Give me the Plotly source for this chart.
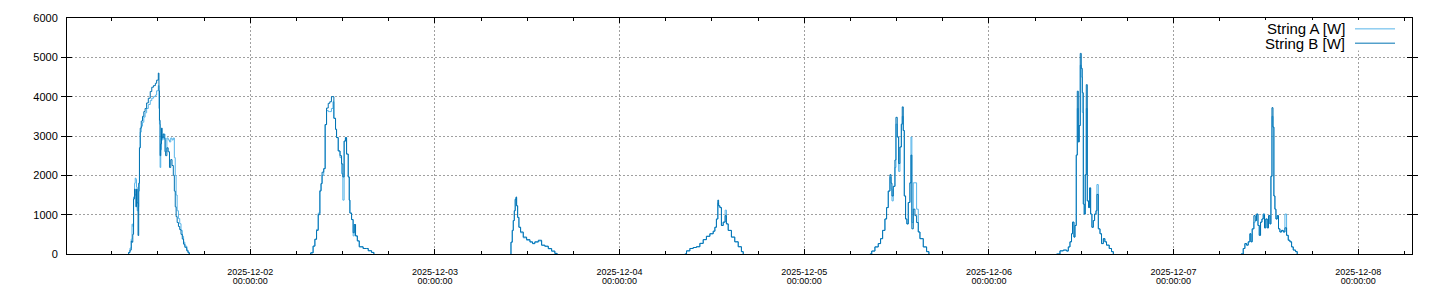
import pandas as pd
import plotly.graph_objects as go

series_names = ["String A [W]", "String B [W]"]
series_colors = ["#56B4E9", "#0072B2"]

# ---- Day 1: 2025-12-01 ----
d1_date = "2025-12-01"
d1_time = ["08:09", "08:12", "08:22", "08:32", "08:38", "08:44", "08:50", "08:58", "09:03", "09:08",
           "09:13", "09:18", "09:25", "09:30", "09:36", "09:42", "09:50", "10:00", "10:10", "10:20",
           "10:32", "10:45", "11:00", "11:12", "11:25", "11:40", "11:50", "12:03", "12:08", "12:12",
           "12:17", "12:22", "12:28", "12:33", "12:40", "12:48", "12:55", "13:00", "13:10", "13:20",
           "13:30", "13:40", "13:50", "14:00", "14:08", "14:15", "14:22", "14:30", "14:40", "14:50",
           "15:00", "15:10", "15:20", "15:30", "15:45", "15:55", "16:05"]
d1_a = [0, 40, 150, 380, 760, 700, 1450, 1800, 1930, 1900,
        1700, 1100, 1200, 1600, 2700, 3100, 3250, 3350, 3480, 3590,
        3700, 3800, 3900, 3960, 4000, 4040, 4150, 4280, 3700, 3300,
        2200, 2650, 3000, 2900, 2950, 3050, 2900, 2600, 2950, 2900,
        2850, 2950, 2900, 2950, 2450, 2000, 1500, 1100, 900, 770,
        600, 450, 300, 200, 100, 40, 0]
d1_b = [0, 40, 100, 330, 300, 500, 1400, 1650, 1500, 1200,
        1650, 1300, 470, 1800, 2700, 3200, 3380, 3500, 3620, 3700,
        3840, 3960, 4130, 4240, 4280, 4340, 4420, 4600, 4150, 3400,
        2500, 2800, 3200, 2950, 3050, 2950, 2600, 2500, 2700, 2600,
        2200, 2400, 2250, 2000, 1600, 1200, 950, 800, 700, 620,
        500, 380, 250, 170, 80, 30, 0]

# ---- Day 2: 2025-12-02 ----
d2_date = "2025-12-02"
d2_time = ["07:46", "07:52", "08:10", "08:24", "08:37", "08:50", "09:03", "09:12", "09:20", "09:33",
           "09:44", "09:55", "10:08", "10:20", "10:33", "10:45", "10:52", "11:05", "11:13", "11:26",
           "11:40", "11:52", "12:02", "12:12", "12:22", "12:31", "12:44", "12:52", "12:57", "13:10",
           "13:22", "13:31", "13:41", "13:55", "14:10", "14:40", "15:07", "15:20", "15:46", "16:04"]
d2_a = [0, 30, 200, 375, 625, 1040, 1620, 1790, 2000, 2170,
        3290, 3650, 3620, 3620, 3700, 3870, 3450, 3170, 2960, 2620,
        2450, 2040, 1370, 2870, 2960, 2540, 1960, 1370, 1040, 875,
        460, 750, 460, 333, 183, 140, 140, 83, 40, 0]
d2_b = [0, 30, 200, 375, 600, 1000, 1600, 1790, 2080, 2170,
        3290, 3710, 3830, 3870, 4000, 4000, 3450, 3170, 2960, 2620,
        2500, 2290, 1960, 2870, 2960, 2540, 1960, 1370, 1040, 875,
        540, 750, 460, 333, 183, 140, 140, 83, 40, 0]

# ---- Day 3: 2025-12-03 ----
d3_date = "2025-12-03"
d3_time = ["09:52", "09:53", "10:03", "10:11", "10:19", "10:26", "10:32", "10:37", "10:45", "10:55",
           "11:08", "11:29", "11:55", "12:21", "12:41", "12:59", "13:26", "13:52", "14:17", "14:44",
           "15:10", "15:35", "15:53"]
d3_a = [0, 300, 600, 850, 1100, 1390, 1420, 1225, 930, 680,
        540, 410, 350, 300, 260, 300, 330, 220, 190, 130,
        70, 15, 0]
d3_b = [0, 300, 600, 850, 1100, 1390, 1450, 1225, 930, 680,
        560, 430, 365, 310, 270, 310, 350, 225, 200, 140,
        75, 15, 0]

# ---- Day 4: 2025-12-04 ----
d4_date = "2025-12-04"
d4_time = ["08:29", "08:42", "09:08", "09:34", "09:59", "10:26", "10:52", "11:17", "11:44", "12:10",
           "12:23", "12:35", "12:46", "12:52", "13:02", "13:14", "13:28", "13:43", "13:53", "14:07",
           "14:32", "14:58", "15:25", "15:50", "16:04"]
d4_a = [0, 80, 140, 165, 185, 270, 365, 450, 515, 580,
        680, 890, 1300, 1225, 1180, 725, 810, 1115, 765, 600,
        430, 310, 185, 60, 0]
d4_b = [0, 80, 140, 165, 185, 270, 365, 450, 515, 580,
        680, 890, 1370, 1225, 1180, 725, 810, 975, 765, 600,
        430, 310, 185, 60, 0]

# ---- Day 5: 2025-12-05 ----
d5_date = "2025-12-05"
d5_time = ["08:32", "08:46", "09:11", "09:37", "09:55", "10:11", "10:29", "10:42", "10:55", "11:08",
           "11:17", "11:24", "11:34", "11:47", "11:55", "12:05", "12:16", "12:26", "12:37", "12:44",
           "12:52", "13:00", "13:10", "13:20", "13:31", "13:44", "13:52", "13:59", "14:10", "14:23",
           "14:36", "14:49", "15:02", "15:28", "15:54", "16:12"]
d5_a = [0, 75, 180, 265, 390, 600, 890, 1180, 1600, 1950,
        1650, 1350, 1720, 2200, 3300, 2975, 2100, 2720, 3300, 3500,
        3140, 1475, 890, 765, 1310, 1810, 2975, 800, 1810, 1810,
        1140, 560, 390, 180, 60, 0]
d5_b = [0, 75, 180, 265, 390, 600, 890, 1180, 1600, 2015,
        1800, 1475, 1720, 2390, 3475, 2975, 2300, 2720, 3300, 3740,
        3140, 1475, 890, 765, 1310, 1810, 2515, 640, 1140, 975,
        800, 560, 390, 180, 60, 0]

# ---- Day 6: 2025-12-06 ----
d6_date = "2025-12-06"
d6_time = ["08:48", "09:14", "09:40", "10:06", "10:19", "10:32", "10:44", "10:52", "11:03", "11:11",
           "11:21", "11:29", "11:37", "11:44", "11:52", "12:00", "12:08", "12:16", "12:23", "12:31",
           "12:39", "12:47", "12:57", "13:05", "13:13", "13:23", "13:34", "13:44", "13:55", "14:02",
           "14:13", "14:26", "14:38", "14:52", "15:04", "15:17", "15:38", "15:56", "16:10"]
d6_a = [0, 80, 100, 75, 180, 310, 515, 810, 430, 725,
        2515, 3700, 2850, 3265, 4800, 4500, 3600, 1270, 1015, 2015,
        3700, 1350, 1180, 1680, 1015, 680, 850, 1015, 1100, 1765,
        640, 515, 265, 390, 310, 225, 140, 60, 0]
d6_b = [0, 80, 100, 75, 180, 310, 515, 810, 430, 725,
        2515, 4140, 2850, 3265, 5100, 4720, 4100, 1270, 1015, 2015,
        4305, 1350, 1180, 1680, 1015, 680, 850, 1015, 1100, 1515,
        640, 515, 265, 390, 310, 225, 140, 60, 0]

# ---- Day 7: 2025-12-07 ----
d7_date = "2025-12-07"
d7_time = ["08:45", "09:03", "09:16", "09:29", "09:42", "09:55", "10:03", "10:13", "10:26", "10:37",
           "10:47", "10:58", "11:08", "11:18", "11:29", "11:39", "11:49", "11:59", "12:10", "12:20",
           "12:31", "12:39", "12:47", "12:55", "13:02", "13:10", "13:18", "13:28", "13:38", "13:49",
           "14:02", "14:15", "14:28", "14:41", "14:54", "15:07", "15:20", "15:33", "15:51", "16:04"]
d7_a = [0, 140, 265, 225, 310, 515, 310, 640, 810, 850,
        1015, 725, 475, 810, 890, 1015, 665, 890, 665, 975,
        765, 1975, 3500, 3225, 1475, 1140, 890, 975, 640, 560,
        600, 560, 1015, 475, 350, 310, 180, 100, 60, 0]
d7_b = [0, 140, 265, 225, 310, 515, 310, 640, 975, 850,
        1015, 725, 475, 810, 890, 1015, 665, 890, 665, 975,
        765, 1975, 3720, 3225, 1475, 1140, 890, 975, 640, 560,
        600, 560, 665, 475, 350, 310, 180, 100, 60, 0]

days = [
    (d1_date, d1_time, d1_a, d1_b),
    (d2_date, d2_time, d2_a, d2_b),
    (d3_date, d3_time, d3_a, d3_b),
    (d4_date, d4_time, d4_a, d4_b),
    (d5_date, d5_time, d5_a, d5_b),
    (d6_date, d6_time, d6_a, d6_b),
    (d7_date, d7_time, d7_a, d7_b),
]

x_all, a_all, b_all = [], [], []
for date, times, a_vals, b_vals in days:
    x_all += [pd.Timestamp(f"{date} {t}") for t in times]
    a_all += list(a_vals)
    b_all += list(b_vals)
    # gap between days (no data overnight)
    x_all.append(pd.Timestamp(f"{date} 20:00"))
    a_all.append(None)
    b_all.append(None)

x_range = ["2025-12-01 00:11", "2025-12-08 06:59"]
y_range = [0, 6000]

fig = go.Figure()
# String A on the primary x axis, String B on the overlaid (identical) x axis -> drawn on top
fig.add_trace(go.Scatter(x=x_all, y=a_all, mode="lines", name=series_names[0],
                         line=dict(color=series_colors[0], width=1, shape="hv"),
                         connectgaps=False, xaxis="x", yaxis="y"))
fig.add_trace(go.Scatter(x=x_all, y=b_all, mode="lines", name=series_names[1],
                         line=dict(color=series_colors[1], width=1, shape="hv"),
                         connectgaps=False, xaxis="x2", yaxis="y"))

font_family = "Liberation Sans, Arial, sans-serif"
grid_col = "#a0a0a0"

fig.update_layout(
    width=1440, height=300,
    margin=dict(l=67, r=28, t=15, b=46),
    paper_bgcolor="white", plot_bgcolor="white",
    showlegend=False,
    font=dict(family=font_family, color="black"),
)

# primary x axis: date line of the tick labels
fig.update_layout(xaxis=dict(
    type="date", range=x_range,
    tick0="2025-12-01", dtick=86400000,
    tickformat="%Y-%m-%d",
    tickfont=dict(size=9, family=font_family, color="black"),
    ticks="inside", ticklen=5, tickcolor="black", tickwidth=1,
    ticklabelstandoff=9,
    showgrid=True, gridcolor=grid_col, griddash="2px,2px", gridwidth=1,
    showline=True, linecolor="black", linewidth=1, mirror="allticks",
    minor=dict(dtick=6 * 3600000, tick0="2025-12-01", ticks="inside", ticklen=3,
               tickcolor="black", showgrid=False),
    zeroline=False,
))
# overlaid x axis: time line of the tick labels
fig.update_layout(xaxis2=dict(
    type="date", range=x_range, overlaying="x", anchor="y", side="bottom",
    tick0="2025-12-01", dtick=86400000,
    tickformat="%H:%M:%S",
    tickfont=dict(size=9, family=font_family, color="black"),
    ticks="", ticklabelstandoff=20,
    showgrid=False, showline=False, zeroline=False,
))
fig.update_layout(yaxis=dict(
    range=y_range, dtick=1000, tick0=0,
    tickfont=dict(size=11, family=font_family, color="black"),
    ticks="inside", ticklen=5, tickcolor="black", tickwidth=1,
    ticklabelstandoff=6,
    showgrid=True, gridcolor=grid_col, griddash="2px,2px", gridwidth=1,
    showline=True, linecolor="black", linewidth=1, mirror="allticks",
    zeroline=False,
))

# legend drawn gnuplot-style: text right-aligned, sample line to its right
def px_x(px):
    return (px - 67) / (1412 - 67)

def px_y(py):
    return (254 - py) / (254 - 15)

fig.add_shape(type="rect", xref="paper", yref="paper",
              x0=px_x(1256), x1=px_x(1402), y0=px_y(48), y1=px_y(17),
              fillcolor="white", line=dict(width=0), layer="above")
legend_rows = [26, 40.5]
for name, color, row in zip(series_names, series_colors, legend_rows):
    fig.add_annotation(xref="paper", yref="paper", x=px_x(1346), y=px_y(row),
                       text=name, showarrow=False, xanchor="right", yanchor="middle",
                       borderpad=0,
                       font=dict(size=15, family=font_family, color="black"))
    fig.add_shape(type="line", xref="paper", yref="paper",
                  x0=px_x(1355), x1=px_x(1395), y0=px_y(row), y1=px_y(row),
                  line=dict(color=color, width=1), layer="above")

fig.write_html("out.html")
